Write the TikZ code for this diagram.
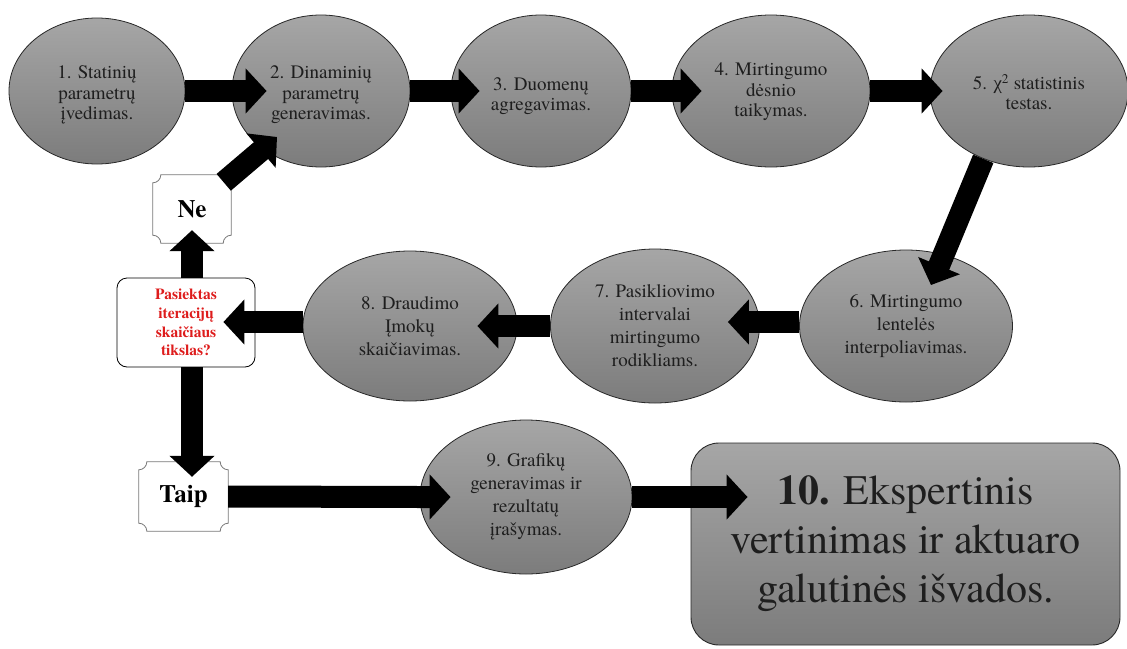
\documentclass[tikz,border=0pt]{standalone}
\usepackage{fontspec}
\IfFontExistsTF{texgyretermes-regular.otf}{%
  \setmainfont{texgyretermes}[Extension=.otf,UprightFont=*-regular,BoldFont=*-bold,ItalicFont=*-italic,BoldItalicFont=*-bolditalic]}{%
  \setmainfont{Liberation Serif}}
\newfontfamily\greekfont{Liberation Serif}
\usetikzlibrary{shapes.geometric,arrows.meta}
\pgfdeclarelayer{bg}
\pgfsetlayers{bg,main}
\definecolor{eltop}{RGB}{166,166,166}
\definecolor{elbot}{RGB}{124,124,124}
\definecolor{elline}{RGB}{40,40,40}
\definecolor{qred}{RGB}{222,28,28}
\definecolor{notchline}{RGB}{120,120,120}
\definecolor{txtdark}{RGB}{30,30,30}
\tikzset{
  proc/.style={ellipse, draw=elline, line width=0.8pt, top color=eltop, bottom color=elbot,
    inner sep=0pt, align=center, text=txtdark, font=\fontsize{19}{21.5}\selectfont},
  ptext/.style={align=center, text=txtdark, inner sep=0pt, font=\fontsize{19}{20.5}\selectfont},
  procb/.style={proc, font=\fontsize{19}{23}\selectfont},
  flow/.style={line width=22pt, draw=black, -{Triangle[width=44pt,length=21pt]}},
  question/.style={rectangle, rounded corners=10pt, draw=black, line width=0.8pt, fill=white,
    align=center, text=qred, font=\bfseries\fontsize{15.5}{18.7}\selectfont, inner sep=0pt},
  answer/.style={rectangle, draw=none, inner sep=0pt, font=\bfseries\fontsize{25}{28}\selectfont},
  notch/.style={draw=notchline, line width=0.8pt, fill=white},
  final/.style={rectangle, rounded corners=28pt, draw=elline, line width=0.9pt, top color=eltop,
    bottom color=elbot, align=center, text=txtdark, inner sep=0pt, font=\fontsize{42}{49}\selectfont}
}
\newcommand{\notchbox}[1]{%
  \begin{pgfonlayer}{bg}
  \draw[notch] ([xshift=8pt]#1.north west) -- ([xshift=-8pt]#1.north east)
    arc[start angle=180,end angle=270,radius=8pt] -- ([yshift=8pt]#1.south east)
    arc[start angle=90,end angle=180,radius=8pt] -- ([xshift=8pt]#1.south west)
    arc[start angle=0,end angle=90,radius=8pt] -- ([yshift=-8pt]#1.north west)
    arc[start angle=270,end angle=360,radius=8pt] -- cycle;
  \end{pgfonlayer}}
\begin{document}
\begin{tikzpicture}[x=1pt,y=-1pt]
\useasboundingbox (0,0) rectangle (1127,648);
% process ellipses (top row)
\node[proc, minimum width=176pt, minimum height=146pt,
  label={[ptext, yshift=-4pt]center:{1. Statinių\\parametrų\\įvedimas.}}] (e1) at (97,91) {};
\node[proc, minimum width=178pt, minimum height=152pt,
  label={[ptext, yshift=-4pt]center:{2. Dinaminių\\parametrų\\generavimas.}}] (e2) at (321,91) {};
\node[proc, minimum width=180pt, minimum height=152pt,
  label={[ptext, yshift=-5pt]center:{3. Duomenų\\agregavimas.}}] (e3) at (541,91) {};
\node[proc, minimum width=198pt, minimum height=152pt,
  label={[ptext, yshift=-1pt]center:{4. Mirtingumo\\dėsnio\\taikymas.}}] (e4) at (771,91) {};
\node[proc, minimum width=198pt, minimum height=152pt,
  label={[ptext, yshift=-1pt]center:{5. {\greekfont χ}\textsuperscript{2} statistinis\\testas.}}] (e5) at (1029,91) {};
% process ellipses (lower rows)
\node[procb, minimum width=213pt, minimum height=152pt] (e6) at (906,326) {6. Mirtingumo\\lentelės\\interpoliavimas.};
\node[procb, minimum width=209pt, minimum height=154pt] (e7) at (655,326) {7. Pasikliovimo\\intervalai\\mirtingumo\\rodikliams.};
\node[procb, minimum width=214pt, minimum height=150pt] (e8) at (410,326) {8. Draudimo\\Įmokų\\skaičiavimas.};
\node[procb, minimum width=212pt, minimum height=154pt] (e9) at (526,497) {9. Grafikų\\generavimas ir\\rezultatų\\įrašymas.};
% decision and answers
\node[question, minimum width=138pt, minimum height=89pt] (dec) at (186,322.5) {Pasiektas\\iteracijų\\skaičiaus\\tikslas?};
\node[answer, minimum width=78pt, minimum height=68pt] (ne) at (192,209) {Ne};
\node[answer, minimum width=89pt, minimum height=69pt] (taip) at (183.5,496.5) {Taip};
\notchbox{ne}
\notchbox{taip}
% final box
\node[final, minimum width=429pt, minimum height=202pt] (r10) at (905.5,544) {\textbf{10.} Ekspertinis\\vertinimas ir aktuaro\\galutinės išvados.};
% connectors
\draw[flow, shorten >=-35pt] (e1.east) -- (e2.west);
\draw[flow, shorten >=-29pt] (e2.east) -- (e3.west);
\draw[flow, shorten >=-30pt] (e3.east) -- (e4.west);
\draw[flow, shorten >=-13pt] (e4.east) -- (e5.west);
\draw[flow] (e5.236) -- ([shift={(25pt,41pt)}]e6.center);
\draw[flow, shorten >=-32pt] ([yshift=4pt]e6.west) -- ([yshift=4pt]e6.west -| e7.east);
\draw[flow, shorten >=-40pt] (e7.west) -- (e7.west -| e8.east);
\draw[flow, shorten >=-32pt] ([yshift=4pt]e8.west) -- ([yshift=4pt]e8.west -| dec.east);
\draw[flow, shorten >=-13pt] (dec.north -| ne.south) -- (ne.south);
\draw[flow, shorten >=-15pt] (dec.south -| ne.south) -- (taip.north -| ne.south);
\draw[flow] ([shift={(-7.5pt,-7.5pt)}]ne.north east) -- ([shift={(-44pt,-46pt)}]e2.center);
\draw[flow, shorten >=-31pt] (taip.east) -- (e9.west);
\draw[flow, shorten >=-57pt] (e9.east) -- (e9.east -| r10.west);
\end{tikzpicture}
\end{document}
